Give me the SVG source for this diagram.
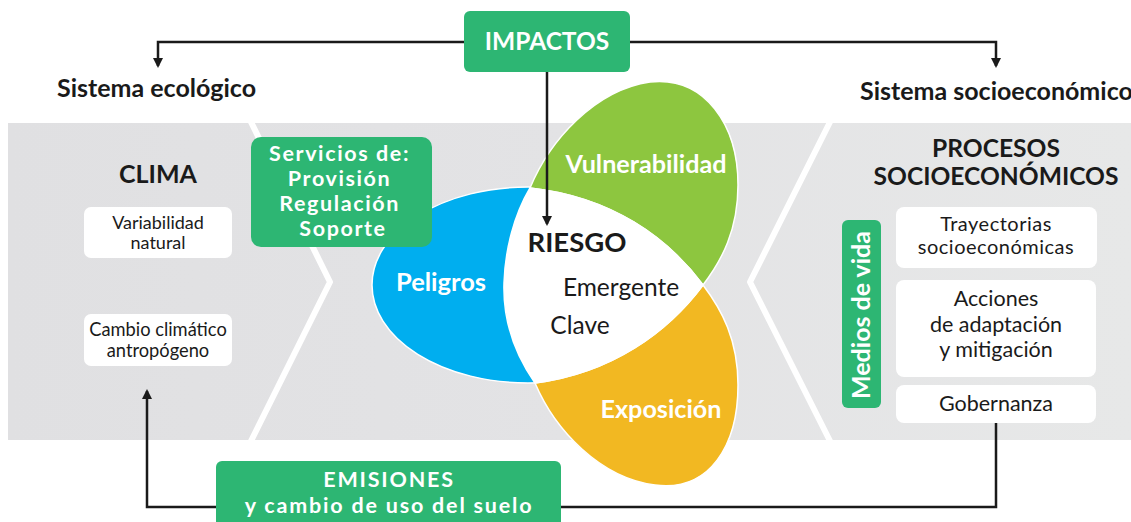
<svg xmlns="http://www.w3.org/2000/svg" width="1131" height="522" viewBox="0 0 1131 522">
<defs>
<style>
.t{font-family:Lato,"Open Sans","Liberation Sans",sans-serif;}
.b{font-weight:bold;}
.w{fill:#ffffff;}
.k{fill:#1a1a1a;}
.gbox{fill:#2db673;}
.wbox{fill:#ffffff;}
.conn{fill:none;stroke:#1a1a1a;stroke-width:2.5;}
.chev{fill:none;stroke:#ffffff;stroke-width:6;stroke-linejoin:round;}
</style>
<linearGradient id="band" x1="0" y1="0" x2="1" y2="0">
<stop offset="0" stop-color="#e0e0e2"/>
<stop offset="0.5" stop-color="#e3e3e5"/>
<stop offset="1" stop-color="#e7e8e8"/>
</linearGradient>
<marker id="ah" markerWidth="10" markerHeight="10" refX="8" refY="5" orient="auto" markerUnits="userSpaceOnUse" viewBox="0 0 10 10">
<path d="M0,0 L10,5 L0,10 Z" fill="#1a1a1a"/>
</marker>
</defs>
<rect x="0" y="0" width="1131" height="522" fill="#ffffff"/>
<g id="background">
<rect x="8" y="123" width="1123" height="317" fill="url(#band)"/>
<polyline class="chev" points="250,120 330,282 250,443"/>
<polyline class="chev" points="831,120 750,282 831,443"/>
</g>
<g id="titles">
<text class="t b k" x="57" y="97" font-size="25">Sistema ecológico</text>
<text class="t b k" x="860" y="100" font-size="25">Sistema socioeconómico</text>
</g>
<g id="petals">
<g id="peligros">
<ellipse cx="528" cy="285" rx="156" ry="98" fill="#00aeef" stroke="#ffffff" stroke-width="1.5"/>
<text class="t b w" x="441" y="291" font-size="25.5" text-anchor="middle">Peligros</text>
</g>
<g id="vulnerabilidad">
<path d="M530,188 C550,140 595,90 650,82 C705,76 738,125 738,185 C738,230 722,260 703,285 C668,238 612,197 530,188 Z" fill="#8dc63f" stroke="#ffffff" stroke-width="1.5"/>
<text class="t b w" x="646" y="173" font-size="25.2" text-anchor="middle">Vulnerabilidad</text>
</g>
<g id="exposicion">
<path d="M535,383 C555,430 600,478 655,485 C710,492 738,445 738,385 C738,340 722,310 703,285 C668,332 612,373 535,383 Z" fill="#f2b822" stroke="#ffffff" stroke-width="1.5"/>
<text class="t b w" x="661" y="418" font-size="25.2" text-anchor="middle">Exposición</text>
</g>
<g id="riesgo">
<path d="M530,188 C612,197 668,238 703,285 C668,332 612,373 535,383 C512,350 503,315 504,283 C505,250 514,215 530,188 Z" fill="#ffffff" stroke="#ffffff" stroke-width="1.5"/>
<text class="t b k" x="577" y="252" font-size="27.5" text-anchor="middle">RIESGO</text>
<text class="t k" x="621" y="296" font-size="24.5" text-anchor="middle">Emergente</text>
<text class="t k" x="580" y="334" font-size="24.5" text-anchor="middle">Clave</text>
</g>
</g>
<g id="impactos">
<rect class="gbox" x="464" y="11" width="166" height="61" rx="6"/>
<text class="t b w" x="547" y="50" font-size="24.5" text-anchor="middle">IMPACTOS</text>
</g>
<g id="servicios">
<rect class="gbox" x="251" y="137" width="181" height="110" rx="10"/>
<text class="t b w" font-size="21.5" letter-spacing="1.6" text-anchor="middle">
<tspan x="343" y="161">Servicios de:</tspan>
<tspan x="343" y="186">Provisión</tspan>
<tspan x="343" y="211">Regulación</tspan>
<tspan x="343" y="236">Soporte</tspan>
</text>
</g>
<g id="clima">
<text class="t b k" x="158" y="183" font-size="25" text-anchor="middle">CLIMA</text>
</g>
<g id="variabilidad">
<rect class="wbox" x="84" y="207" width="148" height="51" rx="7"/>
<text class="t k" font-size="18" text-anchor="middle"><tspan x="158" y="229">Variabilidad</tspan><tspan x="158" y="249">natural</tspan></text>
</g>
<g id="cambio">
<rect class="wbox" x="84" y="314" width="148" height="52" rx="7"/>
<text class="t k" font-size="18.3" text-anchor="middle"><tspan x="158" y="336">Cambio climático</tspan><tspan x="158" y="357">antropógeno</tspan></text>
</g>
<g id="procesos">
<text class="t b k" font-size="24.6" text-anchor="middle"><tspan x="996" y="157">PROCESOS</tspan><tspan x="996" y="185">SOCIOECONÓMICOS</tspan></text>
</g>
<g id="medios">
<rect class="gbox" x="842" y="220" width="39" height="188" rx="6"/>
<text class="t b w" font-size="25" text-anchor="middle" transform="translate(870,315) rotate(-90)">Medios de vida</text>
</g>
<g id="trayectorias">
<rect class="wbox" x="896" y="207" width="201" height="61" rx="8"/>
<text class="t k" font-size="20" letter-spacing="0.5" text-anchor="middle"><tspan x="996" y="231">Trayectorias</tspan><tspan x="996" y="254">socioeconómicas</tspan></text>
</g>
<g id="acciones">
<rect class="wbox" x="896" y="280" width="200" height="97" rx="8"/>
<text class="t k" font-size="21.5" text-anchor="middle"><tspan x="996" y="306">Acciones</tspan><tspan x="996" y="332">de adaptación</tspan><tspan x="996" y="357">y mitigación</tspan></text>
</g>
<g id="gobernanza">
<rect class="wbox" x="896" y="385" width="200" height="38" rx="8"/>
<text class="t k" font-size="21.5" text-anchor="middle" x="996" y="411">Gobernanza</text>
</g>
<g id="emisiones">
<rect class="gbox" x="216" y="461" width="345" height="75" rx="6"/>
<text class="t b w" font-size="21.5" letter-spacing="1.8" text-anchor="middle"><tspan x="389" y="487">EMISIONES</tspan><tspan x="389" y="513">y cambio de uso del suelo</tspan></text>
</g>
<g id="connectors">
<path class="conn" d="M464,42 H158 V66" marker-end="url(#ah)"/>
<path class="conn" d="M630,42 H996 V66" marker-end="url(#ah)"/>
<path class="conn" d="M547,72 V224" marker-end="url(#ah)"/>
<path class="conn" d="M216,507 H147 V391" marker-end="url(#ah)"/>
<path class="conn" d="M561,507 H996 V423"/>
</g>
</svg>
